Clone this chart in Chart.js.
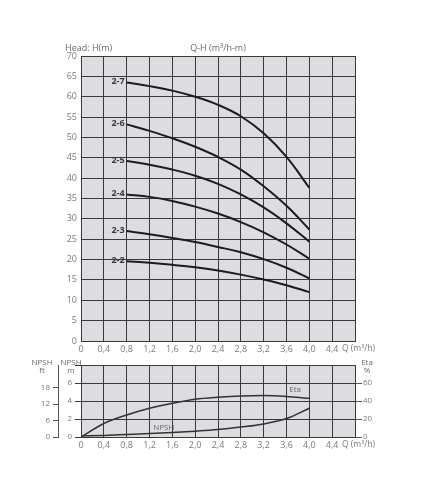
<!DOCTYPE html>
<html>
<head>
<meta charset="utf-8">
<script src="https://cdn.jsdelivr.net/npm/chart.js@4"></script>
<style>
  body { margin: 0; background: #fff; }
  canvas { position: absolute; left: 0; }
  #headChart { top: 0; }
  #npshChart { top: 355px; }
</style>
</head>
<body>
<canvas id="headChart" width="423" height="362"></canvas>
<canvas id="npshChart" width="423" height="100"></canvas>
<script>
// Q axis (m3/h)
const qTicks = [0, 0.4, 0.8, 1.2, 1.6, 2.0, 2.4, 2.8, 3.2, 3.6, 4.0, 4.4, 4.8];
const qTickLabels = ['0', '0,4', '0,8', '1,2', '1,6', '2,0', '2,4', '2,8', '3,2', '3,6', '4,0', '4,4', ''];
const qAxisTitle = 'Q (m³/h)';

// Q-H curves per model
const flowQ = [0.8, 1.2, 1.6, 2.0, 2.4, 2.8, 3.2, 3.6, 4.0];
const curveNames = ['2-7', '2-6', '2-5', '2-4', '2-3', '2-2'];
const head27 = [63.5, 62.6, 61.5, 60.0, 58.0, 55.2, 51.0, 45.2, 37.6];
const head26 = [53.2, 51.6, 49.8, 47.7, 45.2, 42.1, 38.0, 33.2, 27.4];
const head25 = [44.2, 43.3, 42.1, 40.6, 38.6, 36.0, 32.8, 28.9, 24.4];
const head24 = [36.0, 35.4, 34.4, 33.0, 31.3, 29.2, 26.7, 23.7, 20.2];
const head23 = [27.0, 26.2, 25.3, 24.3, 23.1, 21.8, 20.1, 18.0, 15.4];
const head22 = [19.6, 19.2, 18.7, 18.1, 17.3, 16.3, 15.1, 13.7, 12.0];
const headTicks = [0, 5, 10, 15, 20, 25, 30, 35, 40, 45, 50, 55, 60, 65, 70];

// NPSH / Eta
const lowQ = [0, 0.4, 0.8, 1.2, 1.6, 2.0, 2.4, 2.8, 3.2, 3.6, 4.0];
const npshM = [0.1, 0.18, 0.28, 0.38, 0.5, 0.64, 0.82, 1.1, 1.45, 2.05, 3.2];
const etaPct = [0, 15, 24.5, 32, 37.5, 42, 44.2, 45.6, 46, 45, 43];
const npshMTicks = [0, 2, 4, 6, 8];
const npshFtTicks = [0, 6, 12, 18];
const etaTicks = [0, 20, 40, 60];

const FONT = "'Open Sans', sans-serif";
const gridColor = '#3a3a3a';
const labelColor = '#7a7a7a';
const plotBg = '#dcdce1';

function pts(xs, ys) {
    return xs.map((x, i) => ({ x: x, y: ys[i] }));
}

function qLabel(value, index) {
    return qTickLabels[index];
}

const plotBackground = {
    id: 'plotBackground',
    beforeDraw(chart) {
        const { ctx, chartArea: a } = chart;
        ctx.save();
        ctx.fillStyle = plotBg;
        ctx.fillRect(a.left, a.top, a.right - a.left, a.bottom - a.top);
        ctx.restore();
    }
};

// Q axis title sits right after the 4,4 label
const qTitle = {
    id: 'qTitle',
    afterDraw(chart) {
        const { ctx, chartArea: a } = chart;
        ctx.save();
        ctx.font = `8.5px ${FONT}`;
        ctx.fillStyle = labelColor;
        ctx.textAlign = 'left';
        ctx.textBaseline = 'middle';
        ctx.fillText(qAxisTitle, chart.scales.x.getPixelForValue(4.8) - 13, a.bottom + 8);
        ctx.restore();
    }
};

// ---------- Q-H chart ----------
const headSeries = [head27, head26, head25, head24, head23, head22];

const headLabels = {
    id: 'headLabels',
    afterDatasetsDraw(chart) {
        const ctx = chart.ctx;
        ctx.save();
        ctx.font = `bold 9px ${FONT}`;
        ctx.fillStyle = '#3a3a3a';
        ctx.textAlign = 'right';
        ctx.textBaseline = 'middle';
        chart.data.datasets.forEach((ds, i) => {
            const p = chart.getDatasetMeta(i).data[0];
            ctx.fillText(ds.label, p.x - 2, p.y - 1);
        });
        // titles
        ctx.font = `9px ${FONT}`;
        ctx.fillStyle = '#6a6a6a';
        ctx.textAlign = 'left';
        ctx.textBaseline = 'alphabetic';
        ctx.fillText('Head: H(m)', 65, 51);
        ctx.textAlign = 'center';
        ctx.fillText('Q-H (m³/h-m)', 218, 51);
        ctx.restore();
    }
};

new Chart(document.getElementById('headChart'), {
    type: 'line',
    data: {
        datasets: headSeries.map((h, i) => ({
            label: curveNames[i],
            data: pts(flowQ, h),
            borderColor: '#1c1c1c',
            borderWidth: 2,
            pointRadius: 0,
            tension: 0.4,
            fill: false
        }))
    },
    options: {
        responsive: false,
        animation: false,
        devicePixelRatio: 1,
        layout: { padding: { top: 56, right: 68, left: 0, bottom: 0 } },
        plugins: { legend: { display: false }, tooltip: { enabled: false } },
        scales: {
            x: {
                type: 'linear',
                min: 0,
                max: 4.8,
                afterBuildTicks: s => { s.ticks = qTicks.map(v => ({ value: v })); },
                afterFit: s => { s.height = 21; },
                grid: { color: gridColor, drawTicks: false },
                border: { color: gridColor },
                ticks: { callback: qLabel, color: labelColor, font: { family: FONT, size: 9 }, padding: 3, maxRotation: 0, autoSkip: false }
            },
            y: {
                min: 0,
                max: 70,
                afterBuildTicks: s => { s.ticks = headTicks.map(v => ({ value: v })); },
                afterFit: s => { s.width = 81; },
                grid: { color: gridColor, drawTicks: false },
                border: { color: gridColor },
                ticks: { color: labelColor, font: { family: FONT, size: 9 }, padding: 4 }
            }
        }
    },
    plugins: [plotBackground, headLabels, qTitle]
});

// ---------- NPSH / Eta chart ----------
const npshLabels = {
    id: 'npshLabels',
    afterDatasetsDraw(chart) {
        const ctx = chart.ctx;
        const x = chart.scales.x, y = chart.scales.y, ye = chart.scales.yEta;
        ctx.save();
        ctx.font = `8px ${FONT}`;
        ctx.fillStyle = '#6a6a6a';
        ctx.textAlign = 'center';
        ctx.textBaseline = 'middle';
        ctx.fillText('NPSH', 42, 8);
        ctx.fillText('ft', 42, 16);
        ctx.fillText('NPSH', 71, 8);
        ctx.fillText('m', 71, 16);
        ctx.fillText('Eta', 367, 8);
        ctx.fillText('%', 367, 16);
        ctx.fillText('NPSH', x.getPixelForValue(1.45), y.getPixelForValue(0.45) - 5);
        ctx.fillText('Eta', x.getPixelForValue(3.75), ye.getPixelForValue(45) - 7);
        ctx.restore();
    }
};

new Chart(document.getElementById('npshChart'), {
    type: 'line',
    data: {
        datasets: [
            {
                label: 'NPSH',
                data: pts(lowQ, npshM),
                yAxisID: 'y',
                borderColor: '#333',
                borderWidth: 1.5,
                pointRadius: 0,
                cubicInterpolationMode: 'monotone'
            },
            {
                label: 'Eta',
                data: pts(lowQ, etaPct),
                yAxisID: 'yEta',
                borderColor: '#333',
                borderWidth: 1.5,
                pointRadius: 0,
                cubicInterpolationMode: 'monotone'
            }
        ]
    },
    options: {
        responsive: false,
        animation: false,
        devicePixelRatio: 1,
        layout: { padding: { top: 10, right: 0, left: 0, bottom: 0 } },
        plugins: { legend: { display: false }, tooltip: { enabled: false } },
        scales: {
            x: {
                type: 'linear',
                min: 0,
                max: 4.8,
                afterBuildTicks: s => { s.ticks = qTicks.map(v => ({ value: v })); },
                afterFit: s => { s.height = 18; },
                grid: { color: gridColor, drawTicks: false },
                border: { color: gridColor },
                ticks: { callback: qLabel, color: labelColor, font: { family: FONT, size: 9 }, padding: 3, maxRotation: 0, autoSkip: false }
            },
            y: {
                position: 'left',
                weight: 0,
                min: 0,
                max: 8,
                afterBuildTicks: s => { s.ticks = npshMTicks.map(v => ({ value: v })); },
                afterFit: s => { s.width = 23; },
                grid: { color: gridColor, tickLength: 6 },
                border: { color: gridColor },
                ticks: { callback: v => (v === 8 ? '' : v), color: labelColor, font: { family: FONT, size: 8 }, padding: 3 }
            },
            yFt: {
                position: 'left',
                weight: 1,
                min: 0,
                max: 8 * 3.28084,
                afterBuildTicks: s => { s.ticks = npshFtTicks.map(v => ({ value: v })); },
                afterFit: s => { s.width = 58; },
                grid: { drawOnChartArea: false, color: '#555', tickLength: 5 },
                border: { color: '#555' },
                ticks: { color: labelColor, font: { family: FONT, size: 8 }, padding: 3 }
            },
            yEta: {
                position: 'right',
                min: 0,
                max: 80,
                afterBuildTicks: s => { s.ticks = etaTicks.map(v => ({ value: v })); },
                afterFit: s => { s.width = 68; },
                grid: { drawOnChartArea: false, color: '#555', tickLength: 7 },
                border: { color: gridColor },
                ticks: { color: labelColor, font: { family: FONT, size: 8 }, padding: 1 }
            }
        }
    },
    plugins: [plotBackground, npshLabels, qTitle]
});
</script>
</body>
</html>
